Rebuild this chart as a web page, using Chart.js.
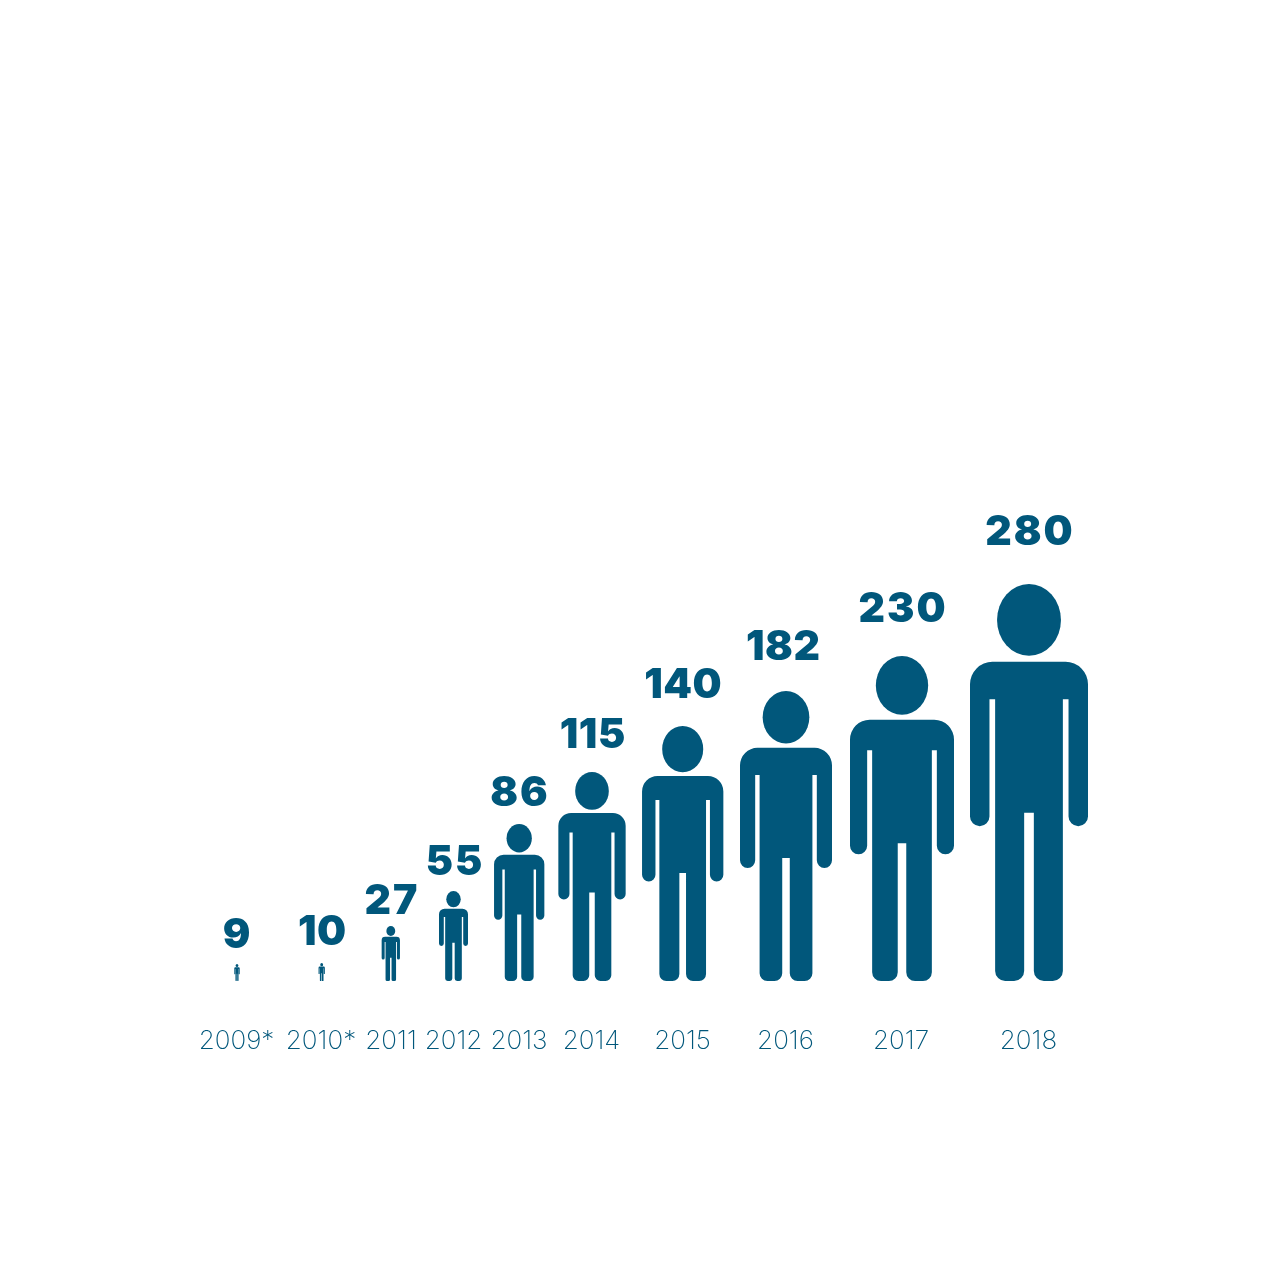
<!DOCTYPE html>
<html>
<head>
<meta charset="utf-8">
<style>html,body{margin:0;padding:0;background:#fff}#box{width:1280px;height:1280px}</style>
<script src="https://cdn.jsdelivr.net/npm/chart.js@4"></script>
</head>
<body>
<div id="box"><canvas id="c" width="1280" height="1280"></canvas></div>
<script>
// ---- data ----
const years = ['2009*','2010*','2011','2012','2013','2014','2015','2016','2017','2018'];
const values = [9,10,27,55,86,115,140,182,230,280];

// ---- layout (not data) ----
const figureHeights = [17,18,55,90,157,209,255,290,325,397];
const figureWidths = [5.4,6.3,18.3,29,50.3,67.3,81.3,92,104,118];
const centers = [237,321.7,390.8,453.5,519.2,592,682.7,786,902,1029];
const tickCenters = [236.5,321,391,453.5,519,591.5,682.5,785.5,901,1028.5];
const labelCenters = [236.5,322,391,454,519,592.5,683,783,902,1029];
const labelGaps = [16.5,18.5,12.5,16.5,18.5,24.5,28.5,31.5,34.5,39];
const labelTracking = [2,0.5,2,2,2,0.5,0.5,0.5,2,2];
const COLOR = '#01577B';

// y scale: the reference's figures are not proportional to the values,
// so the value axis is a piecewise scale through the figure heights.
class FigureScale extends Chart.LinearScale {
  static id = 'figureHeight';
  static defaults = Chart.LinearScale.defaults;
  getPixelForValue(v) {
    let pv = 0, ph = 0;
    for (let i = 0; i < values.length; i++) {
      if (v <= values[i]) {
        const h = ph + (figureHeights[i] - ph) * (v - pv) / (values[i] - pv);
        return this.bottom - h;
      }
      pv = values[i]; ph = figureHeights[i];
    }
    return this.bottom - ph;
  }
}
Chart.register(FigureScale);

function drawPerson(ctx, cx, top, base, W) {
  const H = base - top, L = cx - W / 2, R = cx + W / 2;
  const Y = f => top + f * H;
  // head
  ctx.beginPath();
  ctx.ellipse(cx, Y(0.0905), 0.0805 * H, 0.0905 * H, 0, 0, Math.PI * 2);
  ctx.fill();
  // body
  const sh = Y(0.196), r = 0.19 * W, aw = 0.165 * W, slit = 0.048 * W;
  const armEnd = Y(0.61), slitTop = Y(0.29), crotch = Y(0.576), gap = 0.041 * W, fr = 0.085 * W;
  const tL = L + aw + slit, tR = R - aw - slit;
  ctx.beginPath();
  ctx.moveTo(L + r, sh);
  ctx.lineTo(R - r, sh);
  ctx.arcTo(R, sh, R, sh + r, r);
  ctx.lineTo(R, armEnd - aw / 2);
  ctx.arc(R - aw / 2, armEnd - aw / 2, aw / 2, 0, Math.PI);
  ctx.lineTo(R - aw, slitTop);
  ctx.lineTo(tR, slitTop);
  ctx.lineTo(tR, base - fr);
  ctx.arcTo(tR, base, tR - fr, base, fr);
  ctx.lineTo(cx + gap + fr, base);
  ctx.arcTo(cx + gap, base, cx + gap, base - fr, fr);
  ctx.lineTo(cx + gap, crotch);
  ctx.lineTo(cx - gap, crotch);
  ctx.lineTo(cx - gap, base - fr);
  ctx.arcTo(cx - gap, base, cx - gap - fr, base, fr);
  ctx.lineTo(tL + fr, base);
  ctx.arcTo(tL, base, tL, base - fr, fr);
  ctx.lineTo(tL, slitTop);
  ctx.lineTo(L + aw, slitTop);
  ctx.lineTo(L + aw, armEnd - aw / 2);
  ctx.arc(L + aw / 2, armEnd - aw / 2, aw / 2, 0, Math.PI);
  ctx.lineTo(L, sh + r);
  ctx.arcTo(L, sh, L + r, sh, r);
  ctx.closePath();
  ctx.fill();
}

const personBars = {
  id: 'personBars',
  beforeDatasetDraw(chart, args) {
    const ctx = chart.ctx, xs = chart.scales.x;
    ctx.save();
    ctx.fillStyle = COLOR;
    args.meta.data.forEach((el, i) => {
      const p = el.getProps(['x', 'y', 'base'], true);
      const w = xs.getPixelForValue(figureWidths[i]) - xs.getPixelForValue(0);
      drawPerson(ctx, p.x, p.y, p.base, w);
      ctx.font = '900 41px Inter';
      ctx.letterSpacing = labelTracking[i] + 'px';
      ctx.textAlign = 'center';
      ctx.textBaseline = 'alphabetic';
      ctx.fillText(String(values[i]), xs.getPixelForValue(labelCenters[i]) + labelTracking[i] / 2, p.y - labelGaps[i]);
    });
    ctx.restore();
    return false;
  }
};

new Chart(document.getElementById('c'), {
  type: 'bar',
  data: {
    labels: years,
    datasets: [{
      label: 'Count',
      data: values.map((v, i) => ({ x: centers[i], y: v })),
      backgroundColor: COLOR
    }]
  },
  options: {
    responsive: false,
    animation: false,
    layout: { padding: 0 },
    plugins: { legend: { display: false }, tooltip: { enabled: false }, title: { display: false } },
    scales: {
      x: {
        type: 'linear', min: 0, max: 1280, offset: false,
        grid: { display: false }, border: { display: false },
        afterFit(s) { s.height = 299; },
        afterBuildTicks(s) { s.ticks = tickCenters.map(v => ({ value: v })); },
        ticks: {
          autoSkip: false, maxRotation: 0, padding: 37,
          color: COLOR,
          font: { family: 'Inter', size: 26, weight: 200 },
          callback(v) { return years[tickCenters.indexOf(v)]; }
        }
      },
      y: {
        type: 'figureHeight', min: 0, max: 280, display: false
      }
    }
  },
  plugins: [personBars]
});
</script>
</body>
</html>
